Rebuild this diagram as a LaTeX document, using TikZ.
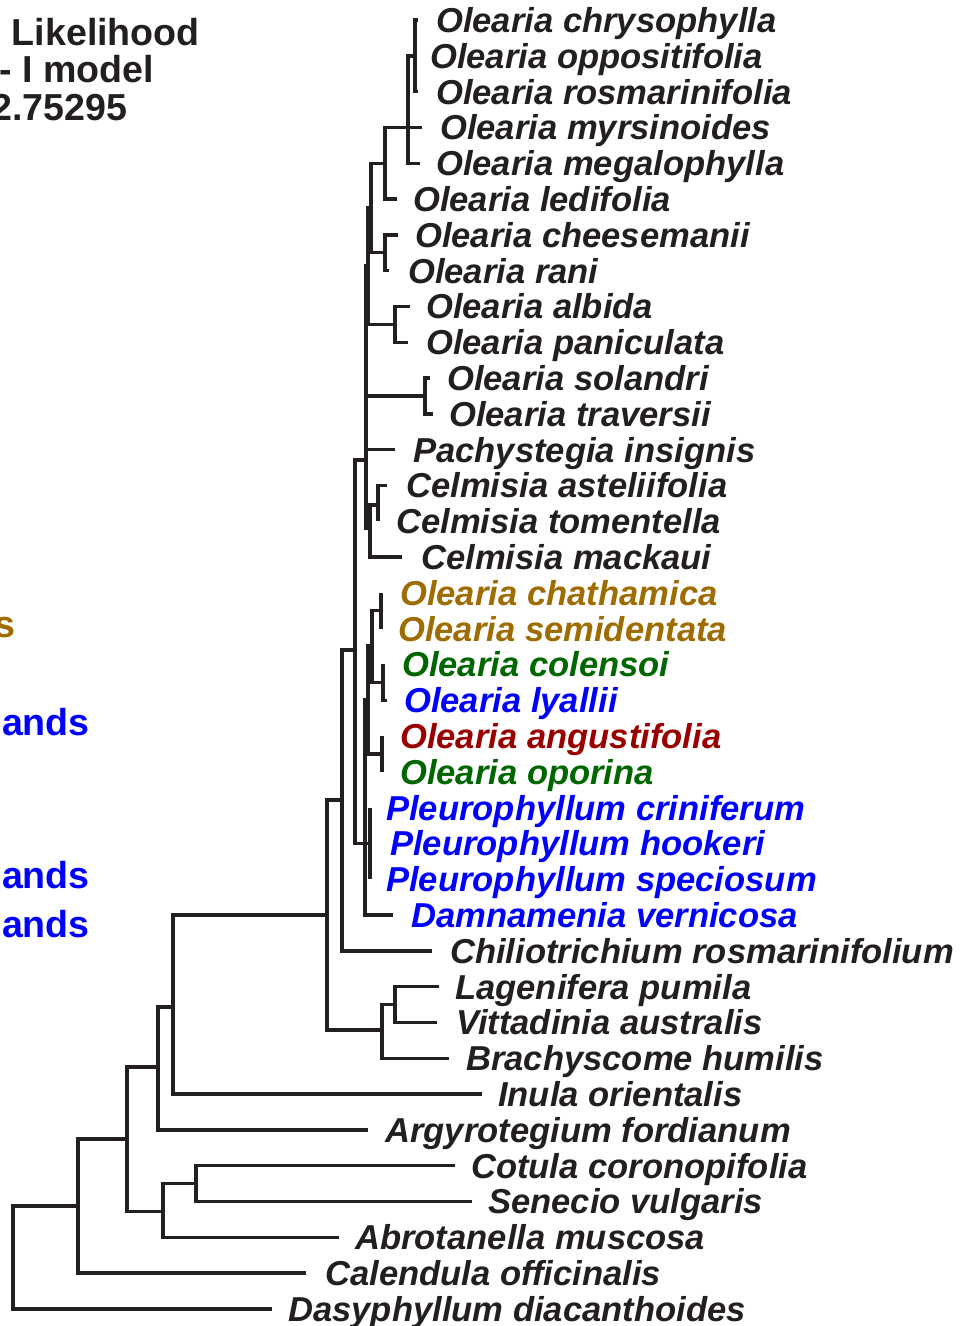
\documentclass[tikz,border=0pt]{standalone}
\usepackage{fontspec}
\setmainfont{Liberation Sans}
\definecolor{ink}{HTML}{231F20}
\definecolor{cbrown}{HTML}{9E6C00}
\definecolor{cgreen}{HTML}{006600}
\definecolor{cblue}{HTML}{0000FF}
\definecolor{cred}{HTML}{990000}
\begin{document}
\begin{tikzpicture}[x=1pt,y=-1pt,
  br/.style={line width=3.4pt, draw=ink, line join=miter},
  taxon/.style={anchor=base west, inner sep=0pt, font=\fontsize{34.6}{36}\selectfont\bfseries\itshape, text=ink},
  head/.style={anchor=base east, inner sep=0pt, font=\fontsize{37.6}{40}\selectfont\bfseries, text=ink}]
\useasboundingbox (0,0) rectangle (972,1326);
\clip (0,0) rectangle (972,1326);
% header and legend (cut by the frame)
\node[head] (h1) at (200,45) {Likelihood};
\node[head] (h2) at (154.5,82) {- I model};
\node[head] (h3) at (127.5,120) {2.75295};
\node[head,text=cbrown] (g1) at (15.5,637) {s};
\node[head,text=cblue] (g2) at (90,735) {ands};
\node[head,text=cblue] (g3) at (90,888) {ands};
\node[head,text=cblue] (g4) at (90,937) {ands};
% leaf tips
\coordinate (l1) at (418,20);
\coordinate (l2) at (415,55.8);
\coordinate (l3) at (418,91.6);
\coordinate (l4) at (422,127.4);
\coordinate (l5) at (420,163.2);
\coordinate (l6) at (397,199);
\coordinate (l7) at (398,234.8);
\coordinate (l8) at (389,270.6);
\coordinate (l9) at (410,306.4);
\coordinate (l10) at (408,342.2);
\coordinate (l11) at (430,378);
\coordinate (l12) at (433,413.8);
\coordinate (l13) at (395,449.6);
\coordinate (l14) at (387,485.4);
\coordinate (l15) at (378,521.2);
\coordinate (l16) at (402,557);
\coordinate (l17) at (381,592.8);
\coordinate (l18) at (381,628.6);
\coordinate (l19) at (383,664.4);
\coordinate (l20) at (387,700.2);
\coordinate (l21) at (382,736);
\coordinate (l22) at (382,771.8);
\coordinate (l23) at (370,807.6);
\coordinate (l24) at (370,843.4);
\coordinate (l25) at (370,879.2);
\coordinate (l26) at (393,915);
\coordinate (l27) at (432,950.8);
\coordinate (l28) at (439,986.6);
\coordinate (l29) at (437,1022.4);
\coordinate (l30) at (449,1058.2);
\coordinate (l31) at (482,1094);
\coordinate (l32) at (368,1129.8);
\coordinate (l33) at (455,1165.6);
\coordinate (l34) at (472,1201.4);
\coordinate (l35) at (339,1237.2);
\coordinate (l36) at (306,1273);
\coordinate (l37) at (272,1308.8);
% internal nodes
\coordinate (n1) at (415,55.8);
\coordinate (n2) at (408,127.4);
\coordinate (n3) at (385,163.2);
\coordinate (c78) at (385,252.7);
\coordinate (c910) at (395,324.3);
\coordinate (c1112) at (425,395.9);
\coordinate (cb) at (375,512);
\coordinate (ca) at (378,505);
\coordinate (c1416) at (370,528);
\coordinate (u1) at (371,207.6);
\coordinate (u2) at (368,266);
\coordinate (u3) at (366,460);
\coordinate (ch) at (381,610.7);
\coordinate (cl) at (383,682.3);
\coordinate (a1) at (372,646);
\coordinate (ao) at (382,753.9);
\coordinate (a2) at (368,700);
\coordinate (a3) at (370,843.4);
\coordinate (lo) at (365,843.4);
\coordinate (m) at (355,650);
\coordinate (p) at (342,800);
\coordinate (s) at (395,1004.5);
\coordinate (r) at (382,1030);
\coordinate (q) at (327,915);
\coordinate (t) at (173,1007);
\coordinate (v) at (158,1067);
\coordinate (yy) at (196,1183.5);
\coordinate (xx) at (163,1211.5);
\coordinate (w) at (127,1139);
\coordinate (z) at (78,1206);
\coordinate (root) at (13,1257);
% branches
\draw[br] (n1) |- (l1); \draw[br] (n1) |- (l3);
\draw[br] (n2) |- (n1); \draw[br] (n2) |- (l4); \draw[br] (n2) |- (l5);
\draw[br] (n3) |- (n2); \draw[br] (n3) |- (l6);
\draw[br] (c78) |- (l7); \draw[br] (c78) |- (l8);
\draw[br] (c910) |- (l9); \draw[br] (c910) |- (l10);
\draw[br] (c1112) |- (l11); \draw[br] (c1112) |- (l12);
\draw[br] (ca) |- (l14); \draw[br] (ca) |- (l15);
\draw[br] (c1416) |- (ca); \draw[br] (c1416) |- (l16);
\draw[br] (u1) |- (n3); \draw[br] (u1) |- (c78);
\draw[br] (u2) |- (u1); \draw[br] (u2) |- (c910);
\draw[br] (u3) |- (u2); \draw[br] (u3) |- (c1112); \draw[br] (u3) |- (l13); \draw[br] (u3) |- (c1416);
\draw[br] (ch) |- (l17); \draw[br] (ch) |- (l18);
\draw[br] (cl) |- (l19); \draw[br] (cl) |- (l20);
\draw[br] (a1) |- (ch); \draw[br] (a1) |- (cl);
\draw[br] (ao) |- (l21); \draw[br] (ao) |- (l22);
\draw[br] (a2) |- (a1); \draw[br] (a2) |- (ao);
\draw[br] (a3) |- (l23); \draw[br] (a3) |- (l25);
\draw[br] (lo) |- (a2); \draw[br] (lo) |- (a3); \draw[br] (lo) |- (l26);
\draw[br] (m) |- (u3); \draw[br] (m) |- (lo);
\draw[br] (p) |- (m); \draw[br] (p) |- (l27);
\draw[br] (s) |- (l28); \draw[br] (s) |- (l29);
\draw[br] (r) |- (s); \draw[br] (r) |- (l30);
\draw[br] (q) |- (p); \draw[br] (q) |- (r);
\draw[br] (t) |- (q); \draw[br] (t) |- (l31);
\draw[br] (v) |- (t); \draw[br] (v) |- (l32);
\draw[br] (yy) |- (l33); \draw[br] (yy) |- (l34);
\draw[br] (xx) |- (yy); \draw[br] (xx) |- (l35);
\draw[br] (w) |- (v); \draw[br] (w) |- (xx);
\draw[br] (z) |- (w); \draw[br] (z) |- (l36);
\draw[br] (root) |- (z); \draw[br] (root) |- (l37);
% taxon labels
\node[taxon] (t1) at (436,32.5) {Olearia chrysophylla};
\node[taxon] (t2) at (430,68.3) {Olearia oppositifolia};
\node[taxon] (t3) at (436,104.1) {Olearia rosmarinifolia};
\node[taxon] (t4) at (440,139.9) {Olearia myrsinoides};
\node[taxon] (t5) at (436,175.7) {Olearia megalophylla};
\node[taxon] (t6) at (413,211.5) {Olearia ledifolia};
\node[taxon] (t7) at (415,247.3) {Olearia cheesemanii};
\node[taxon] (t8) at (408,283.1) {Olearia rani};
\node[taxon] (t9) at (426,318.9) {Olearia albida};
\node[taxon] (t10) at (426,354.7) {Olearia paniculata};
\node[taxon] (t11) at (447,390.5) {Olearia solandri};
\node[taxon] (t12) at (449,426.3) {Olearia traversii};
\node[taxon] (t13) at (413,462.1) {Pachystegia insignis};
\node[taxon] (t14) at (406,497.9) {Celmisia asteliifolia};
\node[taxon] (t15) at (396,533.7) {Celmisia tomentella};
\node[taxon] (t16) at (421,569.5) {Celmisia mackaui};
\node[taxon,text=cbrown] (t17) at (400,605.3) {Olearia chathamica};
\node[taxon,text=cbrown] (t18) at (398,641.1) {Olearia semidentata};
\node[taxon,text=cgreen] (t19) at (402,676.9) {Olearia colensoi};
\node[taxon,text=cblue] (t20) at (404,712.7) {Olearia lyallii};
\node[taxon,text=cred] (t21) at (400,748.5) {Olearia angustifolia};
\node[taxon,text=cgreen] (t22) at (400,784.3) {Olearia oporina};
\node[taxon,text=cblue] (t23) at (386,820.1) {Pleurophyllum criniferum};
\node[taxon,text=cblue] (t24) at (390,855.9) {Pleurophyllum hookeri};
\node[taxon,text=cblue] (t25) at (386,891.7) {Pleurophyllum speciosum};
\node[taxon,text=cblue] (t26) at (411,927.5) {Damnamenia vernicosa};
\node[taxon] (t27) at (450,963.3) {Chiliotrichium rosmarinifolium};
\node[taxon] (t28) at (455,999.1) {Lagenifera pumila};
\node[taxon] (t29) at (456,1034.9) {Vittadinia australis};
\node[taxon] (t30) at (466,1070.7) {Brachyscome humilis};
\node[taxon] (t31) at (498,1106.5) {Inula orientalis};
\node[taxon] (t32) at (385,1142.3) {Argyrotegium fordianum};
\node[taxon] (t33) at (471,1178.1) {Cotula coronopifolia};
\node[taxon] (t34) at (488,1213.9) {Senecio vulgaris};
\node[taxon] (t35) at (355,1249.7) {Abrotanella muscosa};
\node[taxon] (t36) at (325,1285.5) {Calendula officinalis};
\node[taxon] (t37) at (288,1321.3) {Dasyphyllum diacanthoides};
\end{tikzpicture}
\end{document}
